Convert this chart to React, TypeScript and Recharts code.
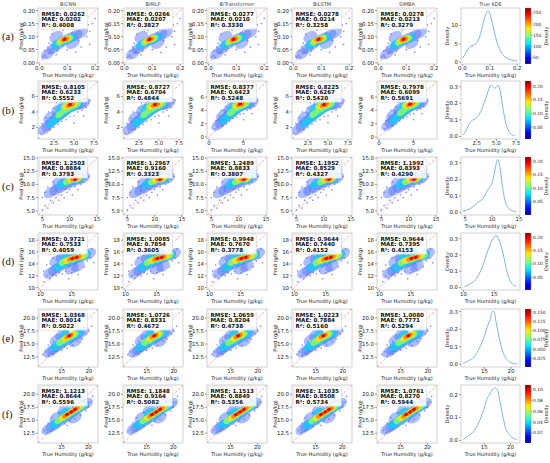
import React from "react";
import {
  ComposedChart,
  Line,
  LineChart,
  ReferenceArea,
  ReferenceLine,
  Scatter,
  ScatterChart,
  XAxis,
  YAxis,
} from "recharts";

// ============================================
// Data
// ============================================

const MODELS = ["BiCNN", "BiMLP", "BiTransformer", "BiLSTM", "SIMBA"];
const ROW_LABELS = ["(a)", "(b)", "(c)", "(d)", "(e)", "(f)"];

// RMSE, MAE, R² per model
const STATS_A = [
  ["0.0262", "0.0202", "0.4008"],
  ["0.0266", "0.0207", "0.3827"],
  ["0.0277", "0.0210", "0.3330"],
  ["0.0278", "0.0214", "0.3258"],
  ["0.0278", "0.0213", "0.3279"],
];
const STATS_B = [
  ["0.8105", "0.6233", "0.5552"],
  ["0.8727", "0.6704", "0.4844"],
  ["0.8377", "0.6423", "0.5248"],
  ["0.8225", "0.6267", "0.5420"],
  ["0.7978", "0.6099", "0.5691"],
];
const STATS_C = [
  ["1.2503", "0.8884", "0.3793"],
  ["1.2967", "0.9160", "0.3323"],
  ["1.2489", "0.8833", "0.3807"],
  ["1.1952", "0.8529", "0.4327"],
  ["1.1992", "0.8393", "0.4290"],
];
const STATS_D = [
  ["0.9721", "0.7533", "0.4059"],
  ["1.0085", "0.7854", "0.3605"],
  ["0.9948", "0.7670", "0.3778"],
  ["0.9644", "0.7440", "0.4152"],
  ["0.9644", "0.7395", "0.4153"],
];
const STATS_E = [
  ["1.0368", "0.8014", "0.5022"],
  ["1.0726", "0.8331", "0.4672"],
  ["1.0659", "0.8204", "0.4738"],
  ["1.0223", "0.7884", "0.5160"],
  ["1.0080", "0.7771", "0.5294"],
];
const STATS_F = [
  ["1.1213", "0.8644", "0.5596"],
  ["1.1848", "0.9164", "0.5082"],
  ["1.1513", "0.8849", "0.5356"],
  ["1.1035", "0.8508", "0.5734"],
  ["1.0761", "0.8270", "0.5944"],
];

// axis limits (same on x and y) and ticks
const LIMITS_A = [-0.005, 0.21];
const LIMITS_B = [0.5, 8.0];
const LIMITS_B_WIDE = [-0.3, 8.4];
const LIMITS_C = [4.2, 15.2];
const LIMITS_D = [9.6, 19.2];
const LIMITS_E = [10.6, 21.7];
const LIMITS_F = [10.6, 21.8];

const TICKS_A_X = [0, 0.1, 0.2];
const TICKS_A_Y = [0, 0.05, 0.1, 0.15, 0.2];
const TICKS_B_X = [2.5, 5, 7.5];
const TICKS_B_Y = [2, 4, 6];
const TICKS_B_WIDE_X = [0, 5];
const TICKS_B_WIDE_Y = [0, 2, 4, 6];
const TICKS_C_X = [5, 10, 15];
const TICKS_C_Y = [5, 7.5, 10, 12.5, 15];
const TICKS_D_X = [10, 15];
const TICKS_D_Y = [10, 12, 14, 16, 18];
const TICKS_EF_X = [15, 20];
const TICKS_EF_Y = [12.5, 15, 17.5, 20];

// density clouds: [true, pred, density level 0..6]
const CLOUD_A = [
  [0.01, 0.02, 0], [0.015, 0.025, 0], [0.02, 0.03, 0], [0.025, 0.02, 0], [0.04, 0.04, 0],
  [0.03, 0.06, 0], [0.045, 0.11, 0], [0.05, 0.13, 0], [0.07, 0.15, 0], [0.09, 0.14, 0],
  [0.12, 0.14, 0], [0.14, 0.16, 0], [0.16, 0.13, 0], [0.17, 0.1, 0], [0.18, 0.12, 0],
  [0.19, 0.15, 0], [0.2, 0.17, 0], [0.18, 0.07, 0], [0.15, 0.06, 0], [0.13, 0.04, 0],
  [0.1, 0.05, 0], [0.06, 0.03, 0], [0.11, 0.16, 0], [0.16, 0.18, 0], [0.085, 0.125, 0],
  [0.14, 0.085, 0], [0.035, 0.075, 0], [0.02, 0.045, 0], [0.175, 0.145, 0], [0.065, 0.045, 0],
  [0.03, 0.035, 1], [0.05, 0.055, 1], [0.07, 0.07, 1], [0.09, 0.085, 1], [0.11, 0.095, 1],
  [0.13, 0.105, 1], [0.15, 0.115, 1], [0.06, 0.1, 1], [0.12, 0.075, 1],
  [0.06, 0.07, 2], [0.08, 0.08, 2], [0.1, 0.09, 2], [0.115, 0.095, 2],
  [0.075, 0.08, 3], [0.095, 0.09, 3], [0.105, 0.092, 3],
  [0.08, 0.085, 4], [0.1, 0.092, 4],
  [0.085, 0.088, 5], [0.097, 0.091, 5],
  [0.09, 0.09, 6],
];
const CLOUD_B = [
  [0.8, 1.2, 0], [1.0, 2.5, 0], [1.5, 3.2, 0], [1.2, 1.4, 0], [2.0, 1.7, 0], [2.5, 2.0, 0],
  [3.0, 2.4, 0], [3.5, 2.8, 0], [4.0, 3.0, 0], [4.5, 3.4, 0], [5.0, 3.5, 0], [5.5, 4.0, 0],
  [6.0, 4.2, 0], [6.5, 4.6, 0], [6.8, 5.2, 0], [6.5, 5.8, 0], [6.0, 6.2, 0], [5.5, 6.5, 0],
  [4.8, 6.3, 0], [4.2, 5.8, 0], [3.5, 5.5, 0], [2.5, 4.5, 0], [1.8, 4.0, 0], [2.8, 5.2, 0],
  [6.2, 3.5, 0], [7.0, 5.5, 0], [5.0, 2.6, 0],
  [1.3, 1.8, 1], [1.8, 2.3, 1], [2.3, 2.8, 1], [2.8, 3.2, 1], [3.3, 3.6, 1], [3.8, 4.0, 1],
  [4.3, 4.4, 1], [4.8, 4.7, 1], [5.3, 4.9, 1], [5.8, 5.0, 1], [6.2, 5.1, 1], [2.0, 3.3, 1],
  [3.0, 4.3, 1], [4.0, 5.3, 1], [5.0, 5.5, 1],
  [2.2, 2.6, 2], [2.8, 3.1, 2], [3.4, 3.6, 2], [4.0, 4.1, 2], [4.6, 4.5, 2], [5.2, 4.8, 2],
  [3.3, 4.4, 2], [5.5, 5.1, 2],
  [3.2, 3.7, 3], [3.8, 4.2, 3], [4.3, 4.5, 3], [4.9, 4.8, 3], [5.3, 5.0, 3], [3.9, 4.8, 3],
  [4.0, 4.7, 4], [4.6, 4.9, 4], [5.0, 5.0, 4],
  [4.3, 4.85, 5], [4.8, 4.95, 5],
  [4.5, 4.95, 6],
];
const CLOUD_C = [
  [5.0, 5.2, 0], [5.5, 6.0, 0], [6.0, 5.5, 0], [6.5, 7.0, 0], [7.0, 6.5, 0], [7.5, 7.5, 0],
  [8.0, 7.0, 0], [8.5, 8.0, 0], [9.0, 7.5, 0], [9.5, 8.5, 0], [10.0, 9.0, 0], [10.5, 8.0, 0],
  [11.0, 9.5, 0], [11.5, 9.0, 0], [12.0, 10.0, 0], [12.5, 10.5, 0], [13.0, 11.0, 0],
  [13.0, 12.5, 0], [12.8, 13.5, 0], [13.2, 12.0, 0], [5.5, 8.5, 0], [6.0, 9.5, 0],
  [7.0, 10.5, 0], [5.0, 7.5, 0], [13.5, 11.5, 0], [9.0, 12.5, 0],
  [6.5, 8.5, 1], [7.5, 9.0, 1], [8.5, 9.5, 1], [9.5, 10.0, 1], [10.5, 10.5, 1],
  [11.5, 10.9, 1], [12.5, 11.2, 1], [8.0, 10.5, 1], [9.5, 11.2, 1], [10.5, 11.8, 1],
  [12.2, 12.3, 1],
  [8.5, 10.1, 2], [9.5, 10.5, 2], [10.3, 10.8, 2], [11.3, 11.0, 2], [12.0, 11.2, 2],
  [9.6, 10.6, 3], [10.4, 10.9, 3], [11.5, 11.1, 3],
  [10.2, 10.9, 4], [11.0, 11.05, 4], [11.6, 11.1, 4],
  [10.6, 11.0, 5], [11.2, 11.05, 5],
  [11.0, 11.0, 6],
];
const CLOUD_D = [
  [10.5, 11.0, 0], [11.0, 12.0, 0], [11.5, 11.5, 0], [12.0, 12.2, 0], [12.5, 12.0, 0],
  [13.0, 12.5, 0], [13.5, 12.3, 0], [14.0, 12.8, 0], [15.0, 12.5, 0], [16.0, 13.0, 0],
  [17.0, 13.5, 0], [17.5, 14.5, 0], [18.0, 15.0, 0], [18.2, 16.5, 0], [17.5, 17.0, 0],
  [16.5, 17.5, 0], [17.2, 16.3, 0], [11.0, 13.8, 0], [10.5, 12.8, 0], [12.0, 15.0, 0],
  [13.0, 16.0, 0], [18.5, 14.2, 0], [16.0, 12.2, 0], [14.5, 11.5, 0],
  [11.5, 12.5, 1], [12.3, 13.0, 1], [13.0, 13.5, 1], [14.0, 14.0, 1], [15.0, 14.5, 1],
  [16.0, 15.0, 1], [17.0, 15.4, 1], [17.8, 15.7, 1], [12.5, 14.5, 1], [13.5, 15.2, 1],
  [14.5, 15.8, 1], [16.0, 13.6, 1], [15.0, 13.2, 1],
  [12.8, 13.5, 2], [13.6, 14.0, 2], [14.4, 14.4, 2], [15.4, 14.8, 2], [16.4, 15.2, 2],
  [17.2, 15.5, 2], [14.0, 15.2, 2], [15.5, 15.7, 2],
  [13.6, 14.3, 3], [14.4, 14.6, 3], [15.3, 14.9, 3], [16.3, 15.3, 3], [17.0, 15.4, 3],
  [14.2, 14.6, 4], [15.0, 14.9, 4], [15.9, 15.1, 4], [16.6, 15.3, 4],
  [14.7, 14.8, 5], [15.4, 15.0, 5], [16.1, 15.2, 5],
  [15.1, 14.9, 6], [15.8, 15.1, 6],
];
const CLOUD_E = [
  [11.5, 13.0, 0], [12.0, 13.5, 0], [12.5, 12.8, 0], [13.0, 13.2, 0], [13.5, 13.0, 0],
  [14.0, 13.6, 0], [15.0, 13.8, 0], [16.0, 14.2, 0], [17.0, 14.8, 0], [18.0, 15.5, 0],
  [18.8, 16.0, 0], [19.5, 17.0, 0], [19.0, 18.2, 0], [18.0, 18.5, 0], [17.5, 19.0, 0],
  [20.0, 17.5, 0], [12.5, 14.8, 0], [13.5, 15.5, 0], [16.5, 18.2, 0], [20.5, 18.4, 0],
  [15.5, 14.5, 0],
  [12.8, 13.5, 1], [13.5, 14.0, 1], [14.2, 14.5, 1], [15.0, 15.0, 1], [16.0, 15.7, 1],
  [17.0, 16.3, 1], [18.0, 16.9, 1], [18.8, 17.3, 1], [14.0, 15.8, 1], [15.0, 16.8, 1],
  [17.5, 15.5, 1],
  [13.8, 14.5, 2], [14.6, 15.0, 2], [15.4, 15.5, 2], [16.3, 16.0, 2], [17.2, 16.6, 2],
  [18.0, 17.0, 2], [15.5, 16.8, 2],
  [14.8, 15.4, 3], [15.6, 15.8, 3], [16.4, 16.3, 3], [17.3, 16.8, 3],
  [15.6, 16.1, 4], [16.4, 16.5, 4], [17.0, 16.8, 4],
  [16.0, 16.4, 5], [16.7, 16.7, 5],
  [16.4, 16.6, 6],
];
const CLOUD_F = [
  [11.8, 13.0, 0], [12.3, 12.6, 0], [13.0, 13.0, 0], [13.5, 13.3, 0], [14.5, 13.8, 0],
  [15.5, 14.3, 0], [16.5, 14.8, 0], [17.5, 15.2, 0], [18.5, 16.0, 0], [19.5, 16.8, 0],
  [20.0, 17.5, 0], [20.5, 18.5, 0], [19.8, 19.2, 0], [19.0, 19.5, 0], [18.0, 19.2, 0],
  [12.5, 14.5, 0], [13.2, 15.5, 0], [14.5, 16.5, 0], [20.8, 19.6, 0], [16.0, 14.0, 0],
  [12.5, 13.3, 1], [13.3, 13.8, 1], [14.0, 14.3, 1], [15.0, 15.0, 1], [16.0, 15.6, 1],
  [17.0, 16.4, 1], [18.0, 17.2, 1], [19.0, 17.8, 1], [19.6, 18.2, 1], [14.0, 15.5, 1],
  [15.5, 17.0, 1], [17.5, 15.5, 1], [18.0, 18.3, 1],
  [13.6, 14.2, 2], [14.5, 14.8, 2], [15.4, 15.4, 2], [16.3, 16.0, 2], [17.2, 16.6, 2],
  [18.2, 17.3, 2], [19.0, 17.8, 2], [15.5, 16.5, 2],
  [14.5, 15.0, 3], [15.3, 15.5, 3], [16.2, 16.1, 3], [17.1, 16.7, 3], [18.0, 17.3, 3],
  [18.6, 17.6, 3],
  [15.2, 15.5, 4], [16.0, 16.0, 4], [16.8, 16.6, 4], [17.6, 17.1, 4], [18.2, 17.5, 4],
  [15.6, 15.8, 5], [16.4, 16.3, 5], [17.2, 16.8, 5], [17.9, 17.3, 5],
  [16.0, 16.1, 6], [16.8, 16.6, 6], [17.5, 17.1, 6],
];

// True KDE curves
const KDE_A_X = [0, 0.01, 0.02, 0.03, 0.04, 0.05, 0.06, 0.07, 0.08, 0.09, 0.095, 0.1, 0.11, 0.12, 0.13, 0.14, 0.15, 0.16, 0.17, 0.18, 0.19, 0.2];
const KDE_A_Y = [1.0, 2.2, 3.6, 4.3, 4.6, 5.1, 6.4, 8.8, 11.8, 13.8, 14.1, 13.4, 10.4, 7.1, 4.6, 2.9, 1.8, 1.2, 0.8, 0.6, 0.4, 0.3];
const KDE_B_X = [0.8, 1.2, 1.6, 2.0, 2.5, 3.0, 3.5, 4.0, 4.3, 4.6, 4.8, 5.0, 5.2, 5.5, 5.8, 6.2, 6.6, 7.0, 7.4];
const KDE_B_Y = [0.01, 0.04, 0.08, 0.1, 0.115, 0.15, 0.21, 0.28, 0.31, 0.3, 0.29, 0.3, 0.31, 0.27, 0.18, 0.08, 0.03, 0.01, 0.004];
const KDE_C_X = [4.5, 5, 6, 7, 7.5, 8, 8.5, 9, 9.5, 10, 10.5, 10.8, 11, 11.3, 11.6, 12, 12.5, 13, 13.5, 14.5];
const KDE_C_Y = [0.008, 0.012, 0.025, 0.05, 0.065, 0.075, 0.095, 0.125, 0.15, 0.18, 0.25, 0.3, 0.32, 0.3, 0.24, 0.14, 0.06, 0.03, 0.015, 0.004];
const KDE_D_X = [10.2, 11, 12, 13, 14, 14.8, 15.3, 15.8, 16.5, 17, 17.5, 18, 18.6];
const KDE_D_Y = [0.005, 0.02, 0.05, 0.12, 0.23, 0.3, 0.32, 0.29, 0.2, 0.11, 0.05, 0.02, 0.006];
const KDE_E_X = [11, 12, 13, 14, 15, 15.5, 16, 16.5, 16.8, 17.2, 17.8, 18.5, 19.5, 20.5, 21.2];
const KDE_E_Y = [0.006, 0.02, 0.04, 0.09, 0.16, 0.21, 0.25, 0.3, 0.3, 0.24, 0.15, 0.07, 0.02, 0.005, 0.002];
const KDE_F_X = [11, 12, 13, 14, 15, 15.5, 16, 16.5, 17, 17.5, 18, 18.5, 19, 20, 21.2];
const KDE_F_Y = [0.005, 0.02, 0.04, 0.08, 0.14, 0.18, 0.2, 0.22, 0.23, 0.22, 0.17, 0.11, 0.06, 0.02, 0.004];

const KDE_A_LIM = [-0.5, 14.8];
const KDE_B_LIM = [-0.015, 0.335];
const KDE_CD_LIM = [-0.015, 0.335];
const KDE_E_LIM = [-0.015, 0.315];
const KDE_F_LIM = [-0.011, 0.242];
const KDE_A_TICKS = [0, 5, 10];
const KDE_TICKS_03 = [0, 0.1, 0.2, 0.3];
const KDE_TICKS_02 = [0, 0.1, 0.2];

// colour bars
const CB_A_LIM = [22, 272];
const CB_A_TICKS = [50, 100, 150, 200, 250];
const CB_B_LIM = [0.007, 0.218];
const CB_C_LIM = [0.002, 0.215];
const CB_D_LIM = [0.003, 0.215];
const CB_BCD_TICKS = [0.05, 0.1, 0.15, 0.2];
const CB_E_LIM = [0.002, 0.158];
const CB_E_TICKS = [0.025, 0.05, 0.075, 0.1, 0.125, 0.15];
const CB_F_LIM = [0.001, 0.109];
const CB_F_TICKS = [0.02, 0.04, 0.06, 0.08, 0.1];

const ROWS = [
  { lim: LIMITS_A, xt: TICKS_A_X, yt: TICKS_A_Y, xd: 1, yd: 2, cloud: CLOUD_A, stats: STATS_A, kx: KDE_A_X, ky: KDE_A_Y, kLim: KDE_A_LIM, kTicks: KDE_A_TICKS, kd: 0, cbLim: CB_A_LIM, cbTicks: CB_A_TICKS, cbd: 0 },
  { lim: LIMITS_B, xt: TICKS_B_X, yt: TICKS_B_Y, xd: 1, yd: 0, cloud: CLOUD_B, stats: STATS_B, kx: KDE_B_X, ky: KDE_B_Y, kLim: KDE_B_LIM, kTicks: KDE_TICKS_03, kd: 1, cbLim: CB_B_LIM, cbTicks: CB_BCD_TICKS, cbd: 2 },
  { lim: LIMITS_C, xt: TICKS_C_X, yt: TICKS_C_Y, xd: 0, yd: 1, cloud: CLOUD_C, stats: STATS_C, kx: KDE_C_X, ky: KDE_C_Y, kLim: KDE_CD_LIM, kTicks: KDE_TICKS_03, kd: 1, cbLim: CB_C_LIM, cbTicks: CB_BCD_TICKS, cbd: 2 },
  { lim: LIMITS_D, xt: TICKS_D_X, yt: TICKS_D_Y, xd: 0, yd: 0, cloud: CLOUD_D, stats: STATS_D, kx: KDE_D_X, ky: KDE_D_Y, kLim: KDE_CD_LIM, kTicks: KDE_TICKS_03, kd: 1, cbLim: CB_D_LIM, cbTicks: CB_BCD_TICKS, cbd: 2 },
  { lim: LIMITS_E, xt: TICKS_EF_X, yt: TICKS_EF_Y, xd: 0, yd: 1, cloud: CLOUD_E, stats: STATS_E, kx: KDE_E_X, ky: KDE_E_Y, kLim: KDE_E_LIM, kTicks: KDE_TICKS_03, kd: 1, cbLim: CB_E_LIM, cbTicks: CB_E_TICKS, cbd: 3 },
  { lim: LIMITS_F, xt: TICKS_EF_X, yt: TICKS_EF_Y, xd: 0, yd: 1, cloud: CLOUD_F, stats: STATS_F, kx: KDE_F_X, ky: KDE_F_Y, kLim: KDE_F_LIM, kTicks: KDE_TICKS_02, kd: 1, cbLim: CB_F_LIM, cbTicks: CB_F_TICKS, cbd: 2 },
];

// ============================================
// Layout
// ============================================

const FONT = "DejaVu Sans";
const COL_LEFTS = [38, 123, 207, 292, 377];
const KDE_LEFT = 461;
const BOX_W = 60;
const KDE_W = 59;
const ROW_TOPS = [8, 81, 157, 233, 309, 385];
const BOX_H = [56, 58, 58, 57, 58, 58];
const CB_LEFT = 525;
const CB_W = 6;
const CB_RW = 24;
const YW = 34;
const KYW = 28;
const MT = 4;
const MR = 4;
const XH = 15;

const TICK = { fontSize: 5.4, fill: "#222", fontFamily: FONT };
const TICK_LINE = { stroke: "#444", strokeWidth: 0.5 };
const LABEL = { fontSize: 5, fill: "#222", fontFamily: FONT };

const JET = [
  ["0", "#00008f"],
  ["0.11", "#0000ff"],
  ["0.36", "#00e5ff"],
  ["0.5", "#80ff7f"],
  ["0.64", "#ffe800"],
  ["0.89", "#ff0000"],
  ["1", "#800000"],
];

// ============================================
// Marks
// ============================================

const dotShape = (p: any) => (
  <rect x={p.cx - 0.7} y={p.cy - 0.7} width={1.4} height={1.4} fill="#5454e4" fillOpacity={0.7} />
);

const blob = (rx: number, ry: number, fill: string, op: number) => (p: any) => (
  <ellipse
    cx={p.cx}
    cy={p.cy}
    rx={rx}
    ry={ry}
    fill={fill}
    fillOpacity={op}
    transform={`rotate(-35 ${p.cx} ${p.cy})`}
  />
);

const LEVEL_SHAPES = [
  dotShape,
  blob(7.5, 5, "#4a6cff", 0.45),
  blob(6, 4, "#22c6f6", 0.85),
  blob(4.8, 3.2, "#7af27e", 1),
  blob(3.8, 2.6, "#ffde1a", 1),
  blob(3, 2.1, "#ff8a00", 1),
  blob(2.2, 1.6, "#d90b0b", 1),
];

function fmt(d: number) {
  return (v: number) => v.toFixed(d);
}

// ============================================
// Panels
// ============================================

function ScatterPanel({ row, col }: { row: number; col: number }) {
  const r = ROWS[row];
  const wide = row === 1 && (col === 2 || col === 4);
  const lim = wide ? LIMITS_B_WIDE : r.lim;
  const xt = wide ? TICKS_B_WIDE_X : r.xt;
  const yt = wide ? TICKS_B_WIDE_Y : r.yt;
  const xd = wide ? 0 : r.xd;
  const yd = wide ? 0 : r.yd;
  const h = BOX_H[row];
  const left = COL_LEFTS[col];
  const top = ROW_TOPS[row];

  return (
    <div style={{ position: "absolute", left: left - YW, top: top - MT }}>
      <ScatterChart
        width={YW + BOX_W + MR}
        height={MT + h + XH}
        margin={{ top: MT, right: MR, bottom: 0, left: 0 }}
      >
        <XAxis
          type="number"
          dataKey="x"
          domain={lim}
          ticks={xt}
          interval={0}
          allowDataOverflow
          tickFormatter={fmt(xd)}
          tick={TICK}
          tickSize={2}
          tickMargin={0}
          tickLine={TICK_LINE}
          axisLine={false}
          height={XH}
          label={{ value: "True Humidity (g/kg)", position: "insideBottom", offset: 2, ...LABEL }}
        />
        <YAxis
          type="number"
          dataKey="y"
          domain={lim}
          ticks={yt}
          interval={0}
          allowDataOverflow
          tickFormatter={fmt(yd)}
          tick={TICK}
          tickSize={2}
          tickMargin={1}
          tickLine={TICK_LINE}
          axisLine={false}
          width={YW}
          label={{ value: "Pred (g/kg)", angle: -90, position: "center", ...LABEL }}
        />
        {LEVEL_SHAPES.map((shape, lv) => (
          <Scatter
            key={lv}
            data={r.cloud.filter((p) => p[2] === lv).map(([x, y]) => ({ x, y }))}
            shape={shape}
            isAnimationActive={false}
          />
        ))}
        <ReferenceLine
          segment={[
            { x: lim[0], y: lim[0] },
            { x: lim[1], y: lim[1] },
          ]}
          stroke="#f08a8a"
          strokeWidth={0.7}
          strokeDasharray="3 1.5"
          ifOverflow="hidden"
        />
        <ReferenceArea
          x1={lim[0]}
          x2={lim[1]}
          y1={lim[0]}
          y2={lim[1]}
          fill="none"
          stroke="#c4c4c4"
          strokeWidth={0.8}
          ifOverflow="visible"
        />
      </ScatterChart>
    </div>
  );
}

function KdePanel({ row }: { row: number }) {
  const r = ROWS[row];
  const h = BOX_H[row];
  const data = r.kx.map((x, i) => ({ x, d: r.ky[i] }));
  return (
    <div style={{ position: "absolute", left: KDE_LEFT - KYW, top: ROW_TOPS[row] - MT }}>
      <LineChart
        width={KYW + KDE_W + MR}
        height={MT + h + XH}
        data={data}
        margin={{ top: MT, right: MR, bottom: 0, left: 0 }}
      >
        <XAxis
          type="number"
          dataKey="x"
          domain={r.lim}
          ticks={r.xt}
          interval={0}
          allowDataOverflow
          tickFormatter={fmt(r.xd)}
          tick={TICK}
          tickSize={2}
          tickMargin={0}
          tickLine={TICK_LINE}
          axisLine={false}
          height={XH}
          label={{ value: "True Humidity (g/kg)", position: "insideBottom", offset: 2, ...LABEL }}
        />
        <YAxis
          type="number"
          domain={r.kLim}
          ticks={r.kTicks}
          interval={0}
          allowDataOverflow
          tickFormatter={fmt(r.kd)}
          tick={TICK}
          tickSize={2}
          tickMargin={1}
          tickLine={TICK_LINE}
          axisLine={false}
          width={KYW}
          label={{ value: "Density", angle: -90, position: "center", ...LABEL }}
        />
        <Line
          type="monotone"
          dataKey="d"
          stroke="#82b6da"
          strokeWidth={1}
          dot={false}
          isAnimationActive={false}
        />
        <ReferenceArea
          x1={r.lim[0]}
          x2={r.lim[1]}
          y1={r.kLim[0]}
          y2={r.kLim[1]}
          fill="none"
          stroke="#c4c4c4"
          strokeWidth={0.8}
          ifOverflow="visible"
        />
      </LineChart>
    </div>
  );
}

function ColorBar({ row }: { row: number }) {
  const r = ROWS[row];
  const h = BOX_H[row];
  const id = `jet-${row}`;
  return (
    <div style={{ position: "absolute", left: CB_LEFT, top: ROW_TOPS[row] - MT }}>
      <ComposedChart
        width={CB_W + CB_RW}
        height={MT + h}
        data={[{ x: 0 }, { x: 1 }]}
        margin={{ top: MT, right: 0, bottom: 0, left: 0 }}
      >
        <defs>
          <linearGradient id={id} x1="0" y1="1" x2="0" y2="0">
            {JET.map(([o, c]) => (
              <stop key={o} offset={o} stopColor={c} />
            ))}
          </linearGradient>
        </defs>
        <XAxis type="number" dataKey="x" domain={[0, 1]} hide />
        <YAxis
          type="number"
          orientation="right"
          domain={r.cbLim}
          ticks={r.cbTicks}
          interval={0}
          allowDataOverflow
          tickFormatter={fmt(r.cbd)}
          tick={{ ...TICK, fontSize: 4.4 }}
          tickSize={1.5}
          tickMargin={0.5}
          tickLine={TICK_LINE}
          axisLine={false}
          width={CB_RW}
          label={{ value: "Density", angle: -90, position: "center", dx: 3, ...LABEL }}
        />
        <ReferenceArea
          x1={0}
          x2={1}
          y1={r.cbLim[0]}
          y2={r.cbLim[1]}
          fill={`url(#${id})`}
          fillOpacity={1}
          stroke="#888"
          strokeWidth={0.4}
          ifOverflow="visible"
        />
      </ComposedChart>
    </div>
  );
}

function StatsBox({ row, col }: { row: number; col: number }) {
  const s = ROWS[row].stats[col];
  const x = COL_LEFTS[col] + 1.5;
  const y = ROW_TOPS[row] + 1.2;
  const lines = [`RMSE: ${s[0]}`, `MAE: ${s[1]}`, `R²: ${s[2]}`];
  return (
    <g>
      <rect x={x} y={y} width={48} height={20} rx={1.5} fill="#fff" fillOpacity={0.85} stroke="#cfcfcf" strokeWidth={0.5} />
      {lines.map((t, i) => (
        <text key={i} x={x + 2} y={y + 6.3 + i * 5.7} fontSize={5.6} fontWeight="bold" fontFamily={FONT} fill="#111">
          {t}
        </text>
      ))}
    </g>
  );
}

// ============================================
// App
// ============================================

export default function App() {
  const rows = [0, 1, 2, 3, 4, 5];
  const cols = [0, 1, 2, 3, 4];
  return (
    <div
      style={{
        position: "absolute",
        left: 0,
        top: 0,
        width: 550,
        height: 463,
        background: "#fff",
        overflow: "hidden",
      }}
    >
      {rows.map((row) =>
        cols.map((col) => <ScatterPanel key={`s-${row}-${col}`} row={row} col={col} />)
      )}
      {rows.map((row) => (
        <KdePanel key={`k-${row}`} row={row} />
      ))}
      {rows.map((row) => (
        <ColorBar key={`c-${row}`} row={row} />
      ))}
      <svg
        width={550}
        height={463}
        style={{ position: "absolute", left: 0, top: 0, pointerEvents: "none" }}
      >
        {MODELS.map((m, col) => (
          <text key={m} x={COL_LEFTS[col] + BOX_W / 2} y={5.6} textAnchor="middle" fontSize={5} fontFamily={FONT} fill="#444">
            {m}
          </text>
        ))}
        <text x={KDE_LEFT + KDE_W / 2} y={5.6} textAnchor="middle" fontSize={5} fontFamily={FONT} fill="#444">
          True KDE
        </text>
        {ROW_LABELS.map((lab, row) => (
          <text
            key={lab}
            x={2}
            y={ROW_TOPS[row] + BOX_H[row] / 2 + 3.5}
            fontSize={10.5}
            fontFamily="Liberation Serif"
            fill="#111"
          >
            {lab}
          </text>
        ))}
        {rows.map((row) => cols.map((col) => <StatsBox key={`b-${row}-${col}`} row={row} col={col} />))}
      </svg>
    </div>
  );
}
